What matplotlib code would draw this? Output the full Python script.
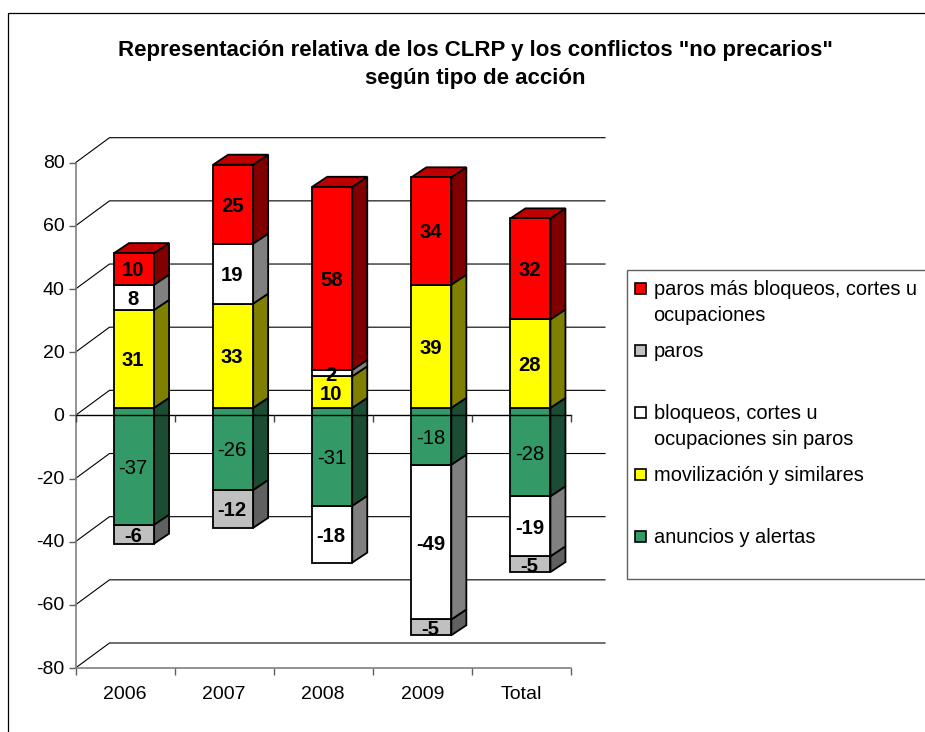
import matplotlib
matplotlib.use("Agg")
import matplotlib.pyplot as plt
from matplotlib.patches import Rectangle, Polygon
from matplotlib.transforms import ScaledTranslation

plt.rcParams['font.family'] = ['Liberation Sans', 'DejaVu Sans']

categories = ['2006', '2007', '2008', '2009', 'Total']
anuncios = [-37, -26, -31, -18, -28]
paros_neg = [-6, -12, 0, -5, -5]
bloqueos_neg = [0, 0, -18, -49, -19]
movilizacion = [31, 33, 10, 39, 28]
bloqueos_pos = [8, 19, 2, 0, 0]
paros_mas = [10, 25, 58, 34, 32]
y_ticks = [-80, -60, -40, -20, 0, 20, 40, 60, 80]
title_lines = 'Representación relativa de los CLRP y los conflictos "no precarios"\nsegún tipo de acción'

legend_entries = [
    ('paros más bloqueos, cortes u\nocupaciones', '#FF0000'),
    ('paros', '#C0C0C0'),
    ('bloqueos, cortes u\nocupaciones sin paros', '#FFFFFF'),
    ('movilización y similares', '#FFFF00'),
    ('anuncios y alertas', '#339966'),
]

C_RED, C_GRAY, C_WHITE, C_YELLOW, C_GREEN = [c for _, c in legend_entries]
SIDE = {C_RED: '#800000', C_GRAY: '#606060', C_WHITE: '#808080',
        C_YELLOW: '#808000', C_GREEN: '#1A4D33'}
TOP = {C_RED: '#BF0000', C_GRAY: '#909090', C_WHITE: '#BFBFBF',
       C_YELLOW: '#BFBF00', C_GREEN: '#267350'}

W, H = 925, 732
fig = plt.figure(figsize=(W / 100, H / 100), dpi=100, facecolor='white')

# page layer (pixel coordinates): frame, title, legend
page = fig.add_axes([0, 0, 1, 1], zorder=0)
page.set_xlim(0, W)
page.set_ylim(H, 0)
page.axis('off')
page.plot([8, 8, W], [H, 12.5, 12.5], color='black', lw=0.9)
page.text(475.5, 64.5, title_lines, ha='center', va='center', fontsize=16,
          fontweight='bold', linespacing=1.42, color='black')

page.add_patch(Rectangle((627, 270), 310, 309, fc='white', ec='#606060', lw=1.0))
legend_y = [288, 350, 412, 474, 536]
for (label_text, col), y in zip(legend_entries, legend_y):
    page.add_patch(Rectangle((635, y - 5.5), 11, 11, fc=col, ec='black', lw=1.2))
    for i, line in enumerate(label_text.split('\n')):
        page.text(653.5, y + 1.5 + i * 26, line, ha='left', va='center',
                  fontsize=14.4, color='black')

# chart layer: data coordinates
L, R, T, B = 75.5, 571, 162.7, 668
ax = fig.add_axes([L / W, 1 - B / H, (R - L) / W, (B - T) / H], zorder=1)
ax.patch.set_alpha(0)
ax.set_xlim(0, len(categories))
ax.set_ylim(-80, 80)

px_x = len(categories) / (R - L)
px_y = 160 / (B - T)
DX, DY = 34 * px_x, 25 * px_y        # wall depth
FX, FY = 9 * px_x, 7.5 * px_y        # bar front offset in depth
SX, SY = 15 * px_x, 10 * px_y        # bar depth
BW = 40 * px_x
LW = 1.3

# walls and gridlines
for v in y_ticks:
    ax.plot([0, DX, len(categories) + DX], [v, v + DY, v + DY],
            color='black', lw=0.8, clip_on=False, zorder=1, solid_joinstyle='miter')


def bar(i, base, val, col, top_face):
    if val == 0:
        return
    x0 = i + 0.5 - BW / 2 + FX
    x1 = x0 + BW
    y0, y1 = base + FY, base + val + FY
    lo, hi = min(y0, y1), max(y0, y1)
    kw = dict(ec='black', lw=LW, clip_on=False, zorder=3, joinstyle='miter')
    ax.add_patch(Polygon([(x1, lo), (x1 + SX, lo + SY), (x1 + SX, hi + SY), (x1, hi)],
                         fc=SIDE[col], **kw))
    if top_face:
        ax.add_patch(Polygon([(x0, hi), (x1, hi), (x1 + SX, hi + SY), (x0 + SX, hi + SY)],
                             fc=TOP[col], **kw))
    ax.add_patch(Rectangle((x0, lo), BW, hi - lo, fc=col, **kw))


def label(i, base, val, col):
    if val == 0:
        return
    bold = col != C_GREEN
    ax.text(i + 0.5 + FX - 1 * px_x, base + val / 2 + FY, f'{val}', ha='center',
            va='center_baseline', fontsize=14.6,
            fontweight='bold' if bold else 'normal', color='black', zorder=6,
            clip_on=False)


for i in range(len(categories)):
    # negative stack, outermost first
    neg = [(anuncios[i], C_GREEN), (bloqueos_neg[i], C_WHITE), (paros_neg[i], C_GRAY)]
    base = 0
    placed = []
    for v, c in neg:
        placed.append((base, v, c))
        base += v
    for b, v, c in reversed(placed):
        bar(i, b, v, c, False)
    # positive stack
    pos = [(movilizacion[i], C_YELLOW), (bloqueos_pos[i], C_WHITE), (paros_mas[i], C_RED)]
    base = 0
    placed_pos = []
    for v, c in pos:
        placed_pos.append((base, v, c))
        base += v
    for b, v, c in placed_pos:
        bar(i, b, v, c, c == C_RED)
    for b, v, c in placed + placed_pos:
        label(i, b, v, c)

# front zero line with its ticks
ax.plot([0, len(categories)], [0, 0], color='black', lw=1.0, zorder=5, clip_on=False)
ax.vlines(range(len(categories) + 1), -7 * px_y, 0, color='#404040', lw=1.0,
          zorder=5, clip_on=False)

# axes
for s in ('top', 'right'):
    ax.spines[s].set_visible(False)
for s in ('left', 'bottom'):
    ax.spines[s].set_color('#808080')
    ax.spines[s].set_linewidth(1.2)
    ax.spines[s].set_zorder(2)
ax.set_yticks(y_ticks)
ax.set_yticklabels([str(v) for v in y_ticks], fontsize=14, color='black')
ax.tick_params(axis='y', length=5, width=1.0, color='#606060', pad=3)
for t in ax.get_yticklabels():
    t.set_verticalalignment('center')
    t.set_transform(t.get_transform() + ScaledTranslation(0, -1 / 100, fig.dpi_scale_trans))
ax.set_xticks(range(len(categories) + 1))
ax.set_xticklabels([])
ax.set_xticks([i + 0.5 for i in range(len(categories))], minor=True)
ax.set_xticklabels(categories, minor=True, fontsize=14, color='black')
ax.tick_params(axis='x', which='major', length=5, width=1.0, color='#606060')
ax.tick_params(axis='x', which='minor', length=0, pad=13)

fig.savefig('out.png', dpi=100)
